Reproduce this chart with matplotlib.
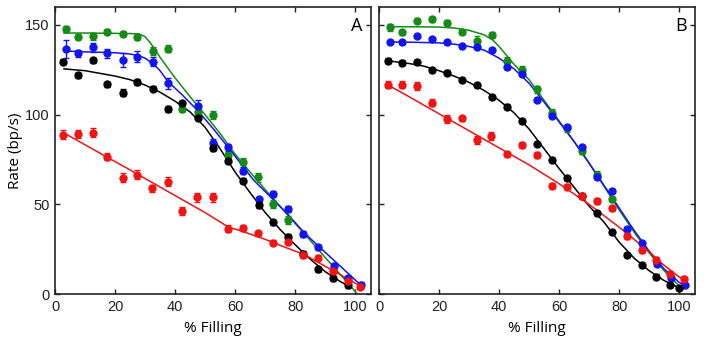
import numpy as np
import matplotlib
matplotlib.use("Agg")
import matplotlib.pyplot as plt

# ---- panel A : measured points ----
gA_x = [3.7, 7.8, 12.6, 17.4, 22.6, 27.4, 32.6, 37.6, 42.4, 47.7, 52.8, 57.6, 62.7, 67.6, 72.8, 77.8]
gA_y = [147.8, 143.5, 143.7, 146.3, 145.2, 143.0, 135.5, 136.8, 103.2, 101.3, 99.8, 77.3, 73.8, 65.0, 50.2, 41.3]
gA_e = [1.5, 1.5, 2, 1.5, 1.5, 1.5, 2, 2, 2, 2, 2, 2, 2, 2.5, 2, 2]

bA_x = [3.7, 7.8, 12.6, 17.4, 22.6, 27.4, 32.6, 37.6, 47.7, 52.8, 57.6, 62.7, 67.9, 72.8, 77.8, 82.8, 87.8, 93.1, 97.8, 101.9]
bA_y = [136.5, 134.2, 137.6, 134.2, 130.5, 132.4, 129.6, 117.5, 104.9, 84.0, 81.8, 68.8, 52.8, 55.8, 47.4, 33.5, 26.0, 15.6, 8.7, 5.0]
bA_e = [5, 2, 2.5, 2.5, 4, 3, 2.5, 3, 3, 2.5, 2, 2, 1.5, 1.5, 1.5, 1.5, 1.5, 1.5, 1.5, 1.5]

kA_x = [2.8, 7.8, 12.6, 17.4, 22.6, 27.4, 32.6, 37.6, 42.4, 47.7, 52.8, 57.6, 62.7, 67.9, 72.7, 77.8, 82.8, 87.8, 92.8, 97.8]
kA_y = [129.6, 121.9, 130.2, 116.9, 112.3, 118.2, 114.5, 103.2, 106.3, 98.3, 81.4, 74.3, 63.2, 49.6, 40.0, 32.0, 22.3, 13.8, 8.7, 4.8]
kA_e = [1.5, 1.5, 1.5, 1.5, 2, 1.5, 1.5, 1.5, 1.5, 1.5, 1.5, 1.5, 1.5, 1.5, 1.5, 1.5, 1.5, 1.5, 1.5, 1.5]

rA_x = [2.8, 7.8, 12.6, 17.4, 22.6, 27.4, 32.4, 37.6, 42.4, 47.4, 52.8, 57.8, 62.6, 67.6, 72.8, 77.6, 82.8, 87.8, 92.8, 97.8, 101.7]
rA_y = [88.7, 89.2, 90.0, 76.6, 64.7, 66.6, 58.9, 62.6, 46.3, 53.9, 53.9, 36.4, 36.8, 33.8, 28.6, 29.2, 21.8, 20.3, 12.8, 7.4, 4.1]
rA_e = [2.5, 2.5, 2.5, 2, 2.5, 2.5, 2, 2.5, 2, 2.5, 2.5, 2, 1.5, 1.5, 1.5, 1.5, 1.5, 1.5, 1.5, 1.5, 1.5]

# ---- panel A : fitted curves ----
gA_fx = [3, 10, 20, 25, 28, 30, 32, 35, 40, 45, 50, 55, 60, 65, 70, 75, 80, 85, 90, 95, 100, 100.7]
gA_fy = [145.5, 145.5, 145.3, 145.2, 145.0, 143.5, 139.5, 132, 120.5, 110, 100, 89.5, 78, 68, 58.3, 48.9, 39.4, 30, 20.4, 11, 1.5, 0]
bA_fx = [3, 10, 20, 25, 28, 30, 33, 35, 37.6, 42.4, 47.7, 52.8, 57.6, 62.7, 66.1, 72.8, 77.8, 83, 90, 95, 100, 101.9]
bA_fy = [135.5, 135.0, 134.5, 133.8, 132.8, 131.5, 128, 124.5, 118.5, 111, 102, 92, 82, 71, 63.6, 52.5, 44, 34.2, 23.3, 15.6, 7.9, 5.0]
kA_fx = [3, 10, 15, 20, 25, 30, 35, 40, 45, 50, 55, 60, 65, 70, 75, 80, 85, 90, 95, 98.3]
kA_fy = [125.5, 124.5, 123, 121.5, 119.5, 116.5, 112.5, 107.5, 101.5, 93, 81, 68, 56.5, 45.5, 36, 27.5, 19.5, 12.5, 7, 4]
rA_fx = [2.8, 10, 20, 25, 30, 40, 50, 57.8, 62, 70, 76, 83, 90, 95, 101.7]
rA_fy = [90, 83.2, 73.8, 69.2, 64.4, 54.9, 45.4, 37.3, 35.2, 30.5, 26.5, 22, 15.5, 10.8, 4.5]

# ---- panel B : measured points ----
gB_x = [3.65, 7.5, 12.5, 17.5, 22.5, 27.6, 32.5, 37.6, 42.8, 47.7, 52.7, 57.5, 62.6, 67.5, 72.5, 77.6]
gB_y = [148.7, 145.8, 152.4, 153.2, 151.3, 146.3, 141.3, 144.4, 129.9, 124.9, 114.2, 101.1, 92.4, 79.9, 66.4, 52.8]
gB_e = [2, 1.5, 1.5, 1.5, 1.5, 1.5, 2.5, 1.5, 2, 2, 2, 2, 2, 2, 2, 1.5]

bB_x = [3.65, 7.5, 12.5, 17.5, 22.5, 27.6, 32.5, 37.6, 42.8, 47.7, 52.7, 57.5, 62.6, 67.5, 72.5, 77.6, 82.8, 87.8, 92.8, 97.4, 102.0]
bB_y = [140.4, 140.4, 143.9, 142.0, 140.4, 138.3, 137.9, 136.1, 126.4, 122.7, 108.2, 99.3, 93.3, 82.2, 65.5, 57.6, 36.3, 28.3, 16.6, 8.7, 5.0]
bB_e = [0.8] * 21

kB_x = [2.9, 7.5, 12.5, 17.5, 22.5, 27.6, 32.5, 37.6, 42.8, 47.7, 52.7, 57.5, 62.6, 67.5, 72.5, 77.6, 82.5, 87.7, 92.3, 96.9, 100.0]
kB_y = [130.1, 129.0, 129.2, 124.9, 123.4, 119.4, 116.6, 110.0, 104.5, 96.5, 83.7, 74.7, 64.5, 54.7, 45.0, 34.7, 21.8, 16.2, 9.7, 5.0, 3.5]
kB_e = [1.2] * 21

rB_x = [2.9, 7.5, 12.5, 17.5, 22.5, 27.6, 32.5, 37.3, 42.6, 47.5, 52.7, 57.5, 62.5, 67.5, 72.5, 77.5, 82.5, 87.7, 92.3, 97.0, 101.7]
rB_y = [116.6, 116.6, 116.0, 106.7, 97.6, 98.0, 85.9, 88.1, 77.9, 83.1, 77.5, 60.4, 59.8, 54.7, 51.9, 47.8, 32.3, 24.5, 19.0, 11.2, 8.4]
rB_e = [2, 2, 2, 2, 2, 1.5, 2, 2, 1.5, 1.5, 1.5, 1.5, 1.5, 1.5, 1.5, 1.5, 1.5, 1.5, 1.5, 1.5, 1.5]

# ---- panel B : fitted curves ----
gB_fx = [3, 10, 20, 25, 30, 35, 38, 40, 43, 45, 50, 55, 60, 65, 70, 75, 80, 85, 90, 95, 100, 101.3]
gB_fy = [149, 149, 148.8, 148.3, 147, 144.5, 141.5, 138, 132, 128, 119.5, 108, 96.5, 85, 73, 60, 47, 34.5, 23, 13, 4.5, 3]
bB_fx = [3, 10, 20, 25, 30, 35, 40, 45, 50, 55, 60, 65, 70, 75, 80, 85, 90, 95, 100, 101.7]
bB_fy = [140.5, 140.4, 140, 139.3, 138, 136, 131.5, 125.5, 117.5, 107, 96, 85, 73, 60.5, 48, 35.5, 24, 14, 6.5, 5]
kB_fx = [3, 10, 15, 20, 25, 30, 35, 40, 45, 50, 55, 60, 65, 70, 75, 80, 85, 90, 95, 100]
kB_fy = [130, 128.5, 127, 124.5, 121.5, 118, 113.5, 108, 101, 92, 81, 70, 59.5, 49, 40, 29, 20, 13, 7.5, 3.5]
rB_fx = [2.9, 10, 20, 30, 40, 50, 60, 70, 80, 85, 90, 95, 100, 101.7]
rB_fy = [116.6, 110, 100.5, 91, 81.5, 72, 61.5, 50, 37.3, 30.5, 23.5, 16, 9.5, 8]

GREEN = "#168a16"
BLUE = "#1414f0"
BLACK = "#000000"
RED = "#f01414"

panels = {
    "A": [(gA_x, gA_y, gA_e, gA_fx, gA_fy, GREEN),
          (bA_x, bA_y, bA_e, bA_fx, bA_fy, BLUE),
          (kA_x, kA_y, kA_e, kA_fx, kA_fy, BLACK),
          (rA_x, rA_y, rA_e, rA_fx, rA_fy, RED)],
    "B": [(gB_x, gB_y, gB_e, gB_fx, gB_fy, GREEN),
          (bB_x, bB_y, bB_e, bB_fx, bB_fy, BLUE),
          (kB_x, kB_y, kB_e, kB_fx, kB_fy, BLACK),
          (rB_x, rB_y, rB_e, rB_fx, rB_fy, RED)],
}

plt.rcParams["font.family"] = ["Liberation Sans", "DejaVu Sans"]
label_font = ["Open Sans", "DejaVu Sans"]

fig = plt.figure(figsize=(7.04, 3.46), dpi=100)
W, H = 704, 346
rects = {"A": (55, 371), "B": (379, 695)}
top, bot = 7, 294

for name, series in panels.items():
    l, r = rects[name]
    ax = fig.add_axes([l / W, (H - bot) / H, (r - l) / W, (bot - top) / H])
    for x, y, e, fx, fy, c in series:
        ax.plot(fx, fy, color=c, lw=1.1, zorder=2)
        ax.errorbar(x, y, yerr=e, fmt="o", ms=5, color=c, ecolor=c,
                    elinewidth=1, capsize=2.5, capthick=1, zorder=3)
    ax.set_xlim(0, 105.3)
    ax.set_ylim(0, 160)
    ax.set_xticks([0, 20, 40, 60, 80, 100])
    ax.set_yticks([0, 50, 100, 150])
    ax.tick_params(direction="in", length=3.5, width=1, top=True, right=True,
                   labelsize=10.5, colors="#222222", pad=4)
    for s in ax.spines.values():
        s.set_linewidth(1.2)
        s.set_color("#222222")
    ax.set_xlabel("% Filling", family=label_font, fontsize=11, labelpad=5)
    ax.text(0.956, 0.934, name, transform=ax.transAxes, ha="center", va="center",
            family=label_font, fontsize=13)
    if name == "A":
        ax.set_ylabel("Rate (bp/s)", family=label_font, fontsize=11, labelpad=1.5)
    else:
        ax.tick_params(labelleft=False)

fig.savefig("out.png", dpi=100)
